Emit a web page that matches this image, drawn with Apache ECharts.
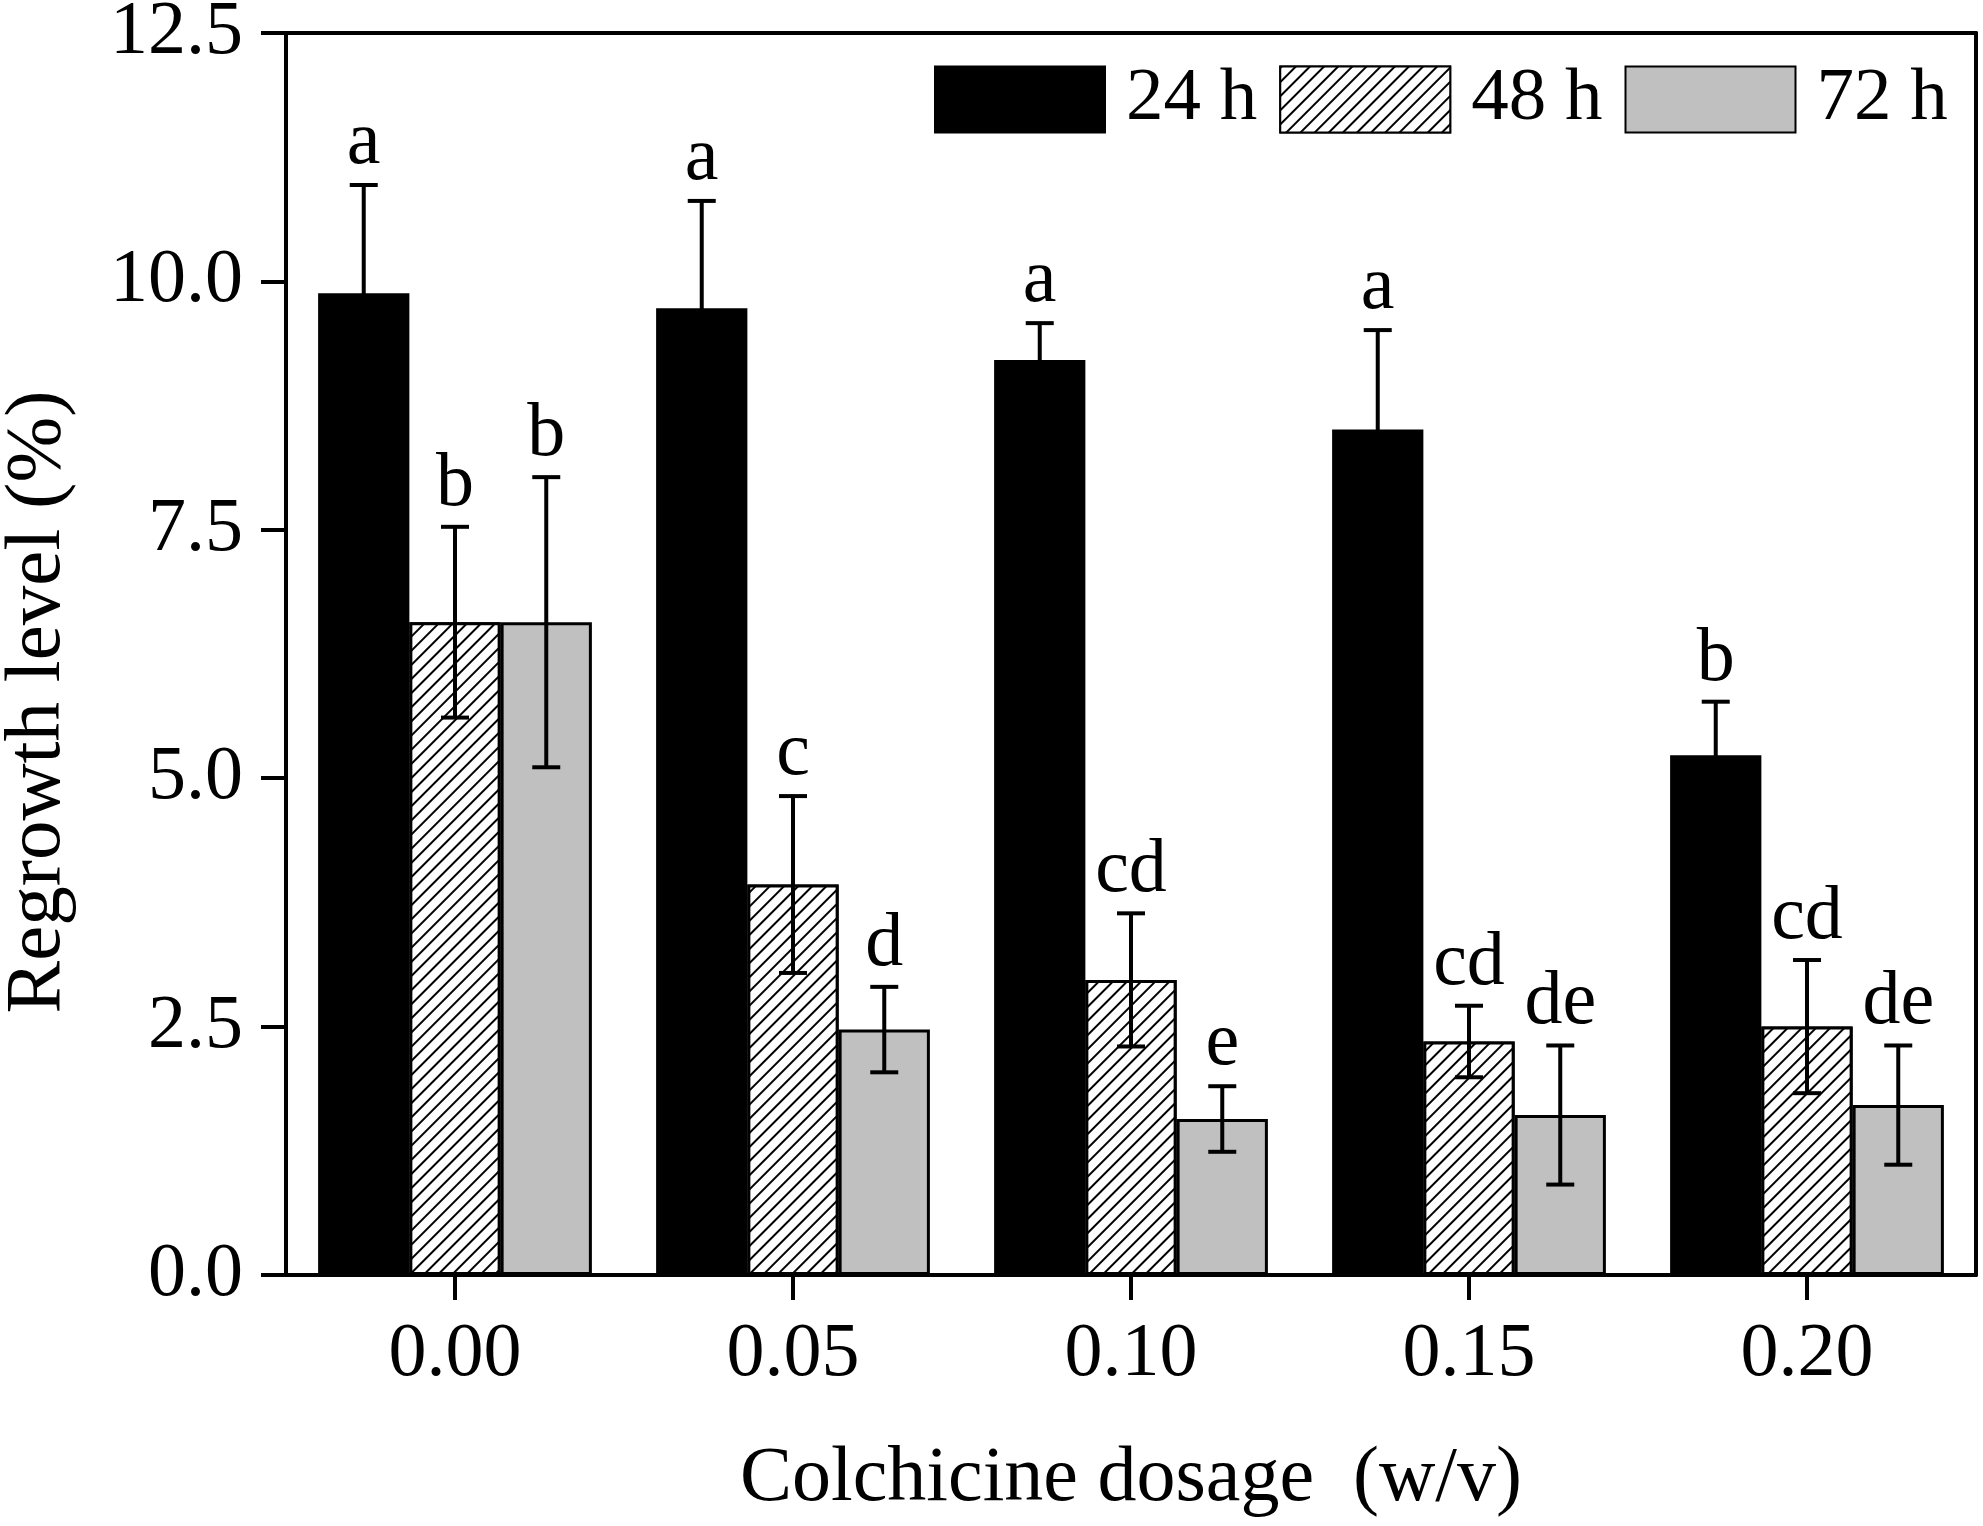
<!DOCTYPE html>
<html>
<head>
<meta charset="utf-8">
<script src="https://cdn.jsdelivr.net/npm/echarts@6/dist/echarts.min.js"></script>
<style>
html,body{margin:0;padding:0;background:#fff;}
#chart{width:1983px;height:1526px;}
</style>
</head>
<body>
<div id="chart"></div>
<script>
// ---- data ----
const categories = ['0.00', '0.05', '0.10', '0.15', '0.20'];
const seriesNames = ['24 h', '48 h', '72 h'];
const mean24 = [9.88, 9.73, 9.21, 8.51, 5.23];
const sd24   = [1.09, 1.08, 0.37, 1.00, 0.54];
const mean48 = [6.57, 3.93, 2.97, 2.35, 2.50];
const sd48   = [0.96, 0.89, 0.67, 0.36, 0.67];
const mean72 = [6.57, 2.47, 1.57, 1.61, 1.71];
const sd72   = [1.46, 0.43, 0.33, 0.70, 0.60];
const letters24 = ['a', 'a', 'a', 'a', 'b'];
const letters48 = ['b', 'c', 'cd', 'cd', 'cd'];
const letters72 = ['b', 'd', 'e', 'de', 'de'];
const yTicks = [0, 2.5, 5, 7.5, 10, 12.5];

// ---- styling ----
const FONT = '"Liberation Serif", "Times New Roman", serif';
const BAR_FRAC = 0.27;
const GRID = {left: 286, right: 7, top: 33, bottom: 251};

const means = [mean24, mean48, mean72];
const sds = [sd24, sd48, sd72];
const letters = [letters24, letters48, letters72];

const itemStyles = [
  {color: '#000000', borderColor: '#000', borderWidth: 3},
  {color: '#ffffff', borderColor: '#000', borderWidth: 3,
   decal: {symbol: 'rect', symbolSize: 1, dashArrayX: [1, 0], dashArrayY: [2, 8], rotation: -Math.PI / 4, color: '#000000', backgroundColor: '#ffffff'}},
  {color: '#c0c0c0', borderColor: '#000', borderWidth: 3}
];

const barSeries = seriesNames.map((n, i) => ({
  name: n,
  type: 'bar',
  xAxisIndex: 0, yAxisIndex: 0,
  data: means[i],
  barWidth: (BAR_FRAC * 100) + '%',
  barGap: '0%',
  itemStyle: itemStyles[i],
  z: 2
}));

const errSeries = seriesNames.map((n, gi) => ({
  type: 'custom',
  xAxisIndex: 0, yAxisIndex: 0,
  z: 5,
  silent: true,
  data: categories.map((c, k) => [k, means[gi][k], sds[gi][k]]),
  renderItem: function (params, api) {
    const k = api.value(0), m = api.value(1), s = api.value(2);
    const band = api.size([1, 0])[0];
    const cx = api.coord([k, m])[0] + (gi - 1) * band * BAR_FRAC;
    const yT = api.coord([k, m + s])[1];
    const yB = api.coord([k, m - s])[1];
    const cap = 14;
    const ls = {stroke: '#000', lineWidth: 4};
    return {
      type: 'group',
      children: [
        {type: 'line', shape: {x1: cx, y1: yT, x2: cx, y2: yB}, style: ls},
        {type: 'line', shape: {x1: cx - cap, y1: yT, x2: cx + cap, y2: yT}, style: ls},
        {type: 'line', shape: {x1: cx - cap, y1: yB, x2: cx + cap, y2: yB}, style: ls},
        {type: 'text', style: {text: letters[gi][params.dataIndex], x: cx, y: yT - 4,
          align: 'center', verticalAlign: 'bottom', font: '76px ' + FONT, fill: '#000'}}
      ]
    };
  }
}));

const dummyAxis = {
  min: 0, max: 1, type: 'value',
  axisTick: {show: false}, axisLabel: {show: false}, splitLine: {show: false}
};

const chart = echarts.init(document.getElementById('chart'), null, {renderer: 'canvas'});
chart.setOption({
  backgroundColor: '#ffffff',
  animation: false,
  textStyle: {fontFamily: FONT},
  legend: {
    data: seriesNames,
    left: 929, top: 57,
    itemWidth: 170, itemHeight: 66,
    itemGap: 22,
    icon: 'rect',
    textStyle: {fontSize: 75, lineHeight: 66, fontFamily: FONT, color: '#000', padding: [0, 0, 0, 16]}
  },
  grid: [
    {left: GRID.left, right: GRID.right, top: GRID.top, bottom: GRID.bottom, outerBoundsMode: 'none', containLabel: false},
    {left: GRID.left, right: GRID.right, top: GRID.top, bottom: GRID.bottom, outerBoundsMode: 'none', containLabel: false}
  ],
  xAxis: [
    {
      type: 'category', gridIndex: 0, data: categories,
      axisLine: {show: false},
      axisTick: {show: true, alignWithLabel: true, length: 25, lineStyle: {color: '#000', width: 4}},
      axisLabel: {fontSize: 76, fontFamily: FONT, color: '#000', margin: 42},
      name: 'Colchicine dosage  (w/v)', nameLocation: 'middle', nameGap: 166,
      nameTextStyle: {fontSize: 78, fontFamily: FONT, color: '#000'}
    },
    Object.assign({}, dummyAxis, {gridIndex: 1, position: 'bottom',
      axisLine: {show: true, onZero: false, lineStyle: {color: '#000', width: 4}}}),
    Object.assign({}, dummyAxis, {gridIndex: 1, position: 'top',
      axisLine: {show: true, onZero: false, lineStyle: {color: '#000', width: 4}}})
  ],
  yAxis: [
    {
      type: 'value', gridIndex: 0, min: yTicks[0], max: yTicks[yTicks.length - 1], interval: 2.5,
      axisLine: {show: true, onZero: false, lineStyle: {color: '#000', width: 4}},
      axisTick: {show: true, length: 25, lineStyle: {color: '#000', width: 4}},
      axisLabel: {fontSize: 76, fontFamily: FONT, color: '#000', margin: 43,
        formatter: v => v.toFixed(1)},
      splitLine: {show: false},
      name: 'Regrowth level (%)', nameLocation: 'middle', nameGap: 208,
      nameTextStyle: {fontSize: 79, fontFamily: FONT, color: '#000', padding: [0, 96, 0, 0]}
    },
    Object.assign({}, dummyAxis, {gridIndex: 1, position: 'right',
      axisLine: {show: true, onZero: false, lineStyle: {color: '#000', width: 4}}})
  ],
  series: [...barSeries, ...errSeries]
});
</script>
</body>
</html>
